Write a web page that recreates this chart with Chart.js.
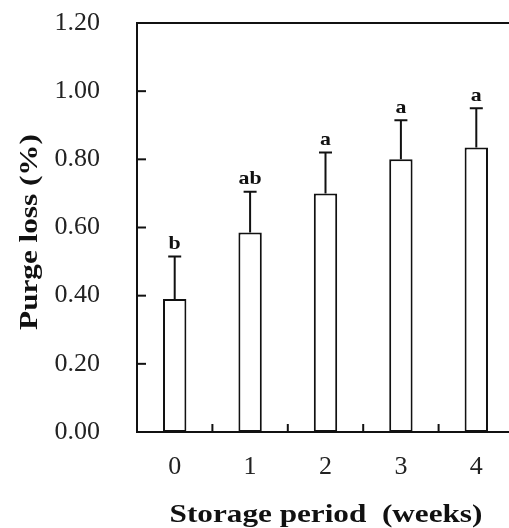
<!DOCTYPE html>
<html>
<head>
<meta charset="utf-8">
<script src="https://cdn.jsdelivr.net/npm/chart.js@4/dist/chart.umd.min.js"></script>
<style>
  html, body { margin: 0; padding: 0; background: #fff; overflow: hidden; }
  #wrap { width: 520px; height: 528px; }
</style>
</head>
<body>
<div id="wrap"><canvas id="purge"></canvas></div>
<script>
// data
const weeks = ['0', '1', '2', '3', '4'];
const purgeLoss = [0.39, 0.585, 0.70, 0.80, 0.835];
const errorTop = [0.515, 0.705, 0.82, 0.915, 0.95];
const letters = ['b', 'ab', 'a', 'a', 'a'];
const yTicks = [0, 0.2, 0.4, 0.6, 0.8, 1.0, 1.2];
const xTitle = 'Storage period  (weeks)';
const yTitle = 'Purge loss (%)';

const serif = "'Liberation Serif', 'Times New Roman', serif";

// the original lettering is a bit stretched sideways
function wideText(ctx, text, x, y, stretch) {
    ctx.save();
    ctx.translate(x, y);
    ctx.scale(stretch, 1);
    ctx.fillText(text, 0, 0);
    ctx.restore();
}

// frame, inward ticks, error bars, letters and axis titles
const extras = {
    id: 'extras',
    afterDatasetsDraw(chart) {
        const ctx = chart.ctx;
        const area = chart.chartArea;
        const x = chart.scales.x;
        const y = chart.scales.y;
        ctx.save();
        ctx.strokeStyle = '#111';
        ctx.lineWidth = 2;

        ctx.strokeRect(area.left, area.top, area.right - area.left, area.bottom - area.top);

        yTicks.forEach(v => {
            const py = y.getPixelForValue(v);
            ctx.beginPath();
            ctx.moveTo(area.left, py);
            ctx.lineTo(area.left + 9, py);
            ctx.stroke();
        });

        for (let i = 0; i < weeks.length - 1; i++) {
            const px = (x.getPixelForValue(i) + x.getPixelForValue(i + 1)) / 2;
            ctx.beginPath();
            ctx.moveTo(px, area.bottom);
            ctx.lineTo(px, area.bottom - 8);
            ctx.stroke();
        }

        ctx.font = 'bold 19px ' + serif;
        ctx.fillStyle = '#111';
        ctx.textAlign = 'center';
        ctx.textBaseline = 'bottom';
        purgeLoss.forEach((v, i) => {
            const px = x.getPixelForValue(i);
            const y0 = y.getPixelForValue(v);
            const y1 = y.getPixelForValue(errorTop[i]);
            ctx.beginPath();
            ctx.moveTo(px, y0);
            ctx.lineTo(px, y1);
            ctx.moveTo(px - 6.5, y1);
            ctx.lineTo(px + 6.5, y1);
            ctx.stroke();
            wideText(ctx, letters[i], px, y1 - 3, 1.15);
        });

        // axis titles
        ctx.font = 'bold 26px ' + serif;
        ctx.textBaseline = 'middle';
        wideText(ctx, xTitle, 326, 515, 1.2);
        ctx.save();
        ctx.translate(30, 232);
        ctx.rotate(-Math.PI / 2);
        wideText(ctx, yTitle, 0, 0, 1.2);
        ctx.restore();

        ctx.restore();
    }
};

new Chart(document.getElementById('purge'), {
    type: 'bar',
    data: {
        labels: weeks,
        datasets: [{
            data: purgeLoss,
            backgroundColor: '#fff',
            borderColor: '#111',
            borderWidth: 2,
            borderSkipped: false,
            categoryPercentage: 1,
            barPercentage: 0.31
        }]
    },
    options: {
        responsive: true,
        maintainAspectRatio: false,
        animation: false,
        layout: { padding: { top: 23, right: 6, left: 0, bottom: 0 } },
        plugins: {
            legend: { display: false },
            tooltip: { enabled: false }
        },
        scales: {
            x: {
                grid: { display: false, drawTicks: false },
                border: { display: false },
                ticks: {
                    color: '#222',
                    padding: 20,
                    font: { family: serif, size: 26 }
                },
                afterFit(scale) {
                    scale.height = 96;
                    scale.paddingLeft = 0;
                    scale.paddingRight = 0;
                }
            },
            y: {
                min: 0,
                max: 1.2,
                grid: { display: false, drawTicks: false },
                border: { display: false },
                ticks: {
                    stepSize: 0.2,
                    color: '#222',
                    padding: 37,
                    font: { family: serif, size: 26 },
                    callback: v => v.toFixed(2)
                },
                afterFit(scale) {
                    scale.width = 137;
                    scale.paddingTop = 0;
                    scale.paddingBottom = 0;
                }
            }
        }
    },
    plugins: [extras]
});
</script>
</body>
</html>
